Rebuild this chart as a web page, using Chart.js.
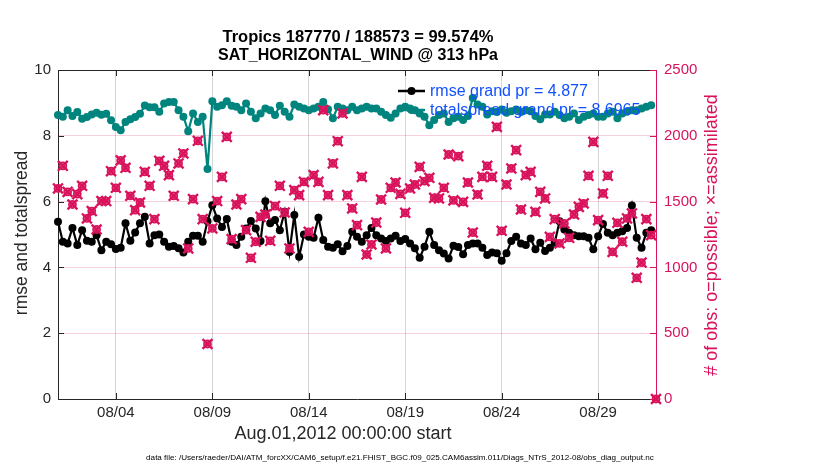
<!DOCTYPE html>
<html>
<head>
<meta charset="utf-8">
<script src="https://cdn.jsdelivr.net/npm/chart.js@4.4.1/dist/chart.umd.min.js"></script>
<style>
  html, body { margin: 0; padding: 0; background: #fff; }
  canvas { display: block; }
</style>
</head>
<body>
<canvas id="c" width="830" height="470"></canvas>
<script>
// ===== data (6-hourly bins from Aug 01 00Z) =====
const TICK_LABELS = ['08/04', '08/09', '08/14', '08/19', '08/24', '08/29'];
const Y_TICKS = [0, 2, 4, 6, 8, 10];
const Y2_TICKS = [0, 500, 1000, 1500, 2000, 2500];

const TOTALSPREAD = [
  8.63, 8.58, 8.78, 8.60, 8.72, 8.52, 8.57, 8.65, 8.70, 8.64, 8.67, 8.47, 8.27, 8.17, 8.42, 8.50,
  8.57, 8.67, 8.92, 8.87, 8.87, 8.73, 8.98, 9.03, 9.03, 8.78, 8.58, 8.14, 8.68, 8.42, 8.58, 6.99,
  9.05, 8.88, 8.93, 9.05, 8.91, 8.88, 8.78, 8.98, 8.73, 8.53, 8.68, 8.83, 8.78, 8.63, 8.91, 8.73,
  8.58, 8.95, 8.88, 8.83, 8.78, 8.83, 8.88, 9.03, 8.81, 8.53, 8.88, 8.83, 8.78, 8.88, 8.78, 8.83,
  8.88, 8.83, 8.83, 8.73, 8.63, 8.55, 8.68, 8.83, 8.88, 8.83, 8.78, 8.68, 8.58, 8.32, 8.48, 8.63,
  8.68, 8.42, 8.53, 8.58, 8.48, 8.60, 9.15, 8.95, 8.88, 8.65, 8.75, 8.72, 8.80, 8.70, 8.75, 8.80,
  8.72, 8.78, 8.75, 8.60, 8.50, 8.65, 8.65, 8.73, 8.63, 8.53, 8.58, 8.68, 8.48, 8.58, 8.63, 8.68,
  8.58, 8.58, 8.68, 8.73, 8.53, 8.68, 8.73, 8.78, 8.78, 8.83, 8.88, 8.93, null
];

const RMSE = [
  5.39, 4.78, 4.73, 5.20, 4.68, 5.13, 4.81, 4.78, 4.98, 4.52, 4.78, 4.70, 4.56, 4.60, 5.34, 4.81,
  5.06, 5.34, 5.54, 4.73, 4.98, 5.00, 4.78, 4.63, 4.65, 4.58, 4.45, 4.78, 4.96, 4.96, 4.78, 5.40,
  5.89, 5.49, 5.23, 5.47, 4.78, 4.68, 4.93, 5.18, 5.41, 5.18, 4.80, 6.01, 5.34, 5.44, 5.13, 5.69,
  4.47, 5.59, 4.32, 5.00, 4.93, 4.90, 5.51, 4.83, 4.63, 4.60, 4.70, 4.49, 4.65, 5.08, 4.93, 4.78,
  4.98, 5.20, 4.98, 4.88, 4.80, 4.88, 4.96, 4.80, 4.86, 4.73, 4.58, 4.29, 4.63, 5.08, 4.68, 4.52,
  4.42, 4.27, 4.66, 4.62, 4.40, 4.68, 4.73, 4.73, 4.60, 4.38, 4.45, 4.43, 4.20, 4.43, 4.80, 4.93,
  4.73, 4.68, 4.88, 4.55, 4.75, 4.50, 4.60, 4.75, 5.40, 5.15, 5.05, 4.98, 4.95, 4.95, 4.90, 4.55,
  4.95, 5.32, 5.05, 4.98, 5.05, 5.10, 5.20, 5.88, 4.90, 4.60, 5.05, 5.13, null
];

const POSSIBLE = [
  1600, 1772, 1574, 1478, 1557, 1620, 1372, 1428, 1288, 1504, 1504, 1731, 1605, 1813, 1757, 1544,
  1435, 1493, 1726, 1620, 1367, 1810, 1772, 1701, 1544, 1790, 1866, 1144, 1519, 1962, 1367, 418,
  1296, 1504, 1688, 1992, 1215, 1478, 1519, 1283, 1073, 1195, 1384, 1402, 1202, 1466, 1620, 1417,
  1144, 1587, 1549, 1650, 1270, 1701, 1650, 2195, 1549, 1790, 1959, 2170, 1549, 1448, 1321, 1688,
  1098, 1174, 1341, 1516, 1144, 1605, 1645, 1559, 1415, 1600, 1630, 1764, 1655, 1681, 1529, 1524,
  1605, 1858, 1509, 1845, 1498, 1645, 1265, 1554, 1688, 1772, 1688, 2068, 1278, 1630, 1752, 1891,
  1440, 1701, 1726, 1422, 1574, 1524, 1232, 1367, 1182, 1334, 1225, 1402, 1460, 1486, 1696, 1954,
  1359, 1562, 1696, 1118, 1339, 1195, 1372, 1410, 921, 1037, 1367, 1245, 0
];
// assimilated differs from possible by <0.5% -> same reading at this scale
const ASSIMILATED = POSSIBLE.slice();

// time labels for every bin: '08/DD' at 00Z, empty otherwise
const TIMES = [];
for (let d = 1; d <= 31; d++) {
  const dd = String(d).padStart(2, '0');
  TIMES.push('08/' + dd, '', '', '');
}
TIMES.push('09/01');

const INK = '#262626';
const CRIMSON = '#d8135c';
const TEAL = '#00847e';
const BLUE = '#1150ff';
const FONT = '"Liberation Sans", Arial, Helvetica, sans-serif';

// ===== extra drawing: box, inward ticks, legend, titles =====
const decor = {
  id: 'decor',
  afterDatasetsDraw(chart) {
    const { ctx, chartArea: a, scales } = chart;
    ctx.save();
    // top border
    ctx.strokeStyle = INK; ctx.lineWidth = 1;
    ctx.beginPath(); ctx.moveTo(a.left, a.top + 0.5); ctx.lineTo(a.right, a.top + 0.5); ctx.stroke();
    // inward ticks
    Y_TICKS.forEach(v => {
      const y = Math.round(scales.y.getPixelForValue(v)) + 0.5;
      ctx.beginPath(); ctx.moveTo(a.left, y); ctx.lineTo(a.left + 6, y); ctx.stroke();
    });
    TIMES.forEach((t, i) => {
      if (!TICK_LABELS.includes(t)) return;
      const x = Math.round(scales.x.getPixelForValue(i)) + 0.5;
      ctx.beginPath(); ctx.moveTo(x, a.bottom); ctx.lineTo(x, a.bottom - 6); ctx.stroke();
      ctx.beginPath(); ctx.moveTo(x, a.top); ctx.lineTo(x, a.top + 6); ctx.stroke();
    });
    ctx.strokeStyle = CRIMSON;
    Y2_TICKS.forEach(v => {
      const y = Math.round(scales.y2.getPixelForValue(v)) + 0.5;
      ctx.beginPath(); ctx.moveTo(a.right, y); ctx.lineTo(a.right - 6, y); ctx.stroke();
    });

    // legend
    const lx = 398, lw = 27;
    [['#000', 91, 'rmse grand pr = 4.877'],
     [TEAL, 110, 'totalspread grand pr = 8.6965']].forEach(([col, y, txt]) => {
      ctx.strokeStyle = col; ctx.fillStyle = col; ctx.lineWidth = 2.5;
      ctx.beginPath(); ctx.moveTo(lx, y); ctx.lineTo(lx + lw, y); ctx.stroke();
      ctx.beginPath(); ctx.arc(lx + lw / 2, y, 4, 0, Math.PI * 2); ctx.fill();
      ctx.fillStyle = BLUE; ctx.font = '16px ' + FONT;
      ctx.textAlign = 'left'; ctx.textBaseline = 'middle';
      ctx.fillText(txt, lx + lw + 5, y + 1);
    });

    // titles
    ctx.fillStyle = '#000'; ctx.textAlign = 'center'; ctx.textBaseline = 'middle';
    ctx.font = 'bold 16.5px ' + FONT;
    ctx.fillText('Tropics 187770 / 188573 = 99.574%', 358, 37);
    ctx.font = 'bold 16px ' + FONT;
    ctx.fillText('SAT_HORIZONTAL_WIND @ 313 hPa', 358, 56);

    ctx.font = '18px ' + FONT; ctx.fillStyle = INK;
    ctx.fillText('Aug.01,2012 00:00:00 start', 343, 434);

    ctx.save();
    ctx.translate(22, 233); ctx.rotate(-Math.PI / 2);
    ctx.font = '17.5px ' + FONT;
    ctx.fillText('rmse and totalspread', 0, 0);
    ctx.restore();

    ctx.save();
    ctx.translate(712, 235); ctx.rotate(-Math.PI / 2);
    ctx.fillStyle = CRIMSON;
    ctx.fillText('# of obs: o=possible; \u00d7=assimilated', 0, 0);
    ctx.restore();

    ctx.font = '8.1px ' + FONT; ctx.fillStyle = '#000';
    ctx.fillText('data file: /Users/raeder/DAI/ATM_forcXX/CAM6_setup/f.e21.FHIST_BGC.f09_025.CAM6assim.011/Diags_NTrS_2012-08/obs_diag_output.nc', 400, 458);
    ctx.restore();
  }
};

new Chart(document.getElementById('c'), {
  type: 'line',
  data: {
    labels: TIMES,
    datasets: [
      {
        label: 'assimilated', data: ASSIMILATED, yAxisID: 'y2', showLine: false,
        pointStyle: 'crossRot', pointRadius: 7, borderColor: CRIMSON,
        pointBorderWidth: 2.4, clip: false, order: 0,
      },
      {
        label: 'possible', data: POSSIBLE, yAxisID: 'y2', showLine: false,
        pointStyle: 'circle', pointRadius: 3.6, borderColor: CRIMSON, backgroundColor: 'rgba(216,19,92,0.7)',
        pointBorderWidth: 1.6, clip: false, order: 1,
      },
      {
        label: 'rmse', data: RMSE, yAxisID: 'y',
        borderColor: '#000', backgroundColor: '#000', borderWidth: 2.2,
        pointRadius: 4, pointBorderWidth: 0, tension: 0, clip: false, order: 2,
      },
      {
        label: 'totalspread', data: TOTALSPREAD, yAxisID: 'y',
        borderColor: TEAL, backgroundColor: TEAL, borderWidth: 2.2,
        pointRadius: 4, pointBorderWidth: 0, tension: 0, clip: false, order: 3,
      },
    ]
  },
  options: {
    responsive: false, animation: false, devicePixelRatio: 1,
    layout: { padding: { left: 0, right: 100, top: 70, bottom: 0 } },
    plugins: { legend: { display: false }, tooltip: { enabled: false } },
    scales: {
      x: {
        type: 'category', offset: false,
        afterFit: s => { s.height = 71; },
        border: { color: INK, width: 1 },
        grid: {
          drawTicks: false,
          color: c => TICK_LABELS.includes(TIMES[c.index]) ? '#d6d6d6' : 'rgba(0,0,0,0)',
        },
        ticks: {
          autoSkip: false, maxRotation: 0, padding: 5, color: INK,
          font: { size: 15, family: FONT },
          callback: (v, i) => TICK_LABELS.includes(TIMES[i]) ? TIMES[i] : '',
        },
      },
      y: {
        position: 'left', min: 0, max: 10,
        afterFit: s => { s.width = 58; },
        border: { color: INK, width: 1 },
        grid: { display: false, drawTicks: false },
        ticks: { stepSize: 2, padding: 7, color: INK, font: { size: 15, family: FONT } },
      },
      y2: {
        position: 'right', min: 0, max: 2500,
        afterFit: s => { s.width = 74; },
        border: { color: CRIMSON, width: 1 },
        grid: { drawTicks: false, color: 'rgba(216,19,92,0.2)' },
        ticks: {
          stepSize: 500, padding: 8, color: CRIMSON, font: { size: 15, family: FONT },
          callback: v => String(v),
        },
      },
    }
  },
  plugins: [decor]
});
</script>
</body>
</html>
